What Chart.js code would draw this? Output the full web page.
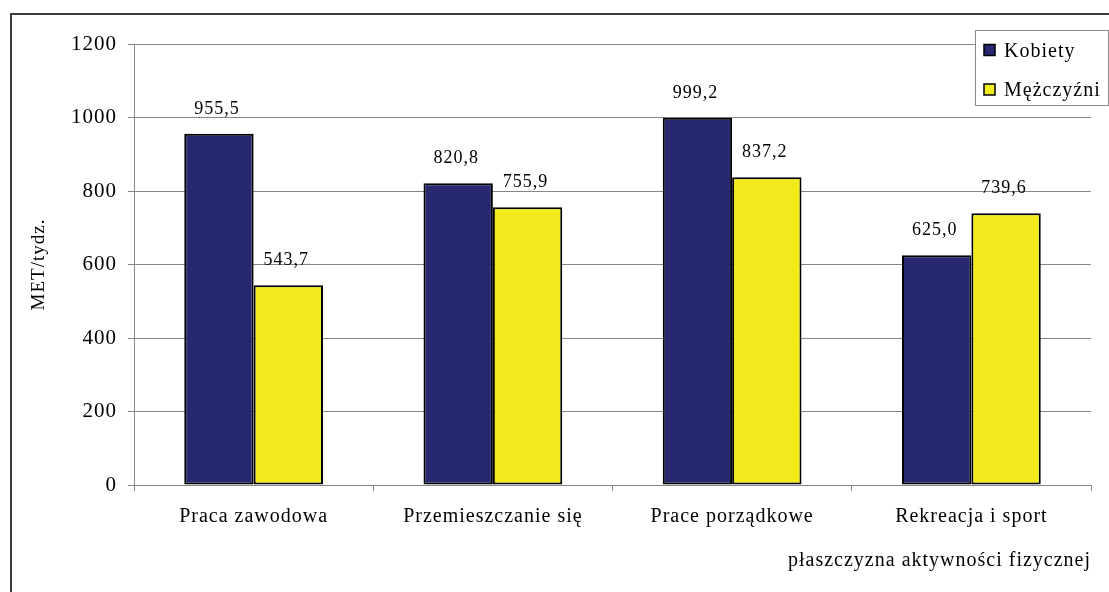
<!DOCTYPE html>
<html>
<head>
<meta charset="utf-8">
<script src="https://cdn.jsdelivr.net/npm/chart.js@4.4.1/dist/chart.umd.min.js"></script>
<style>
  html, body { margin: 0; padding: 0; background: #ffffff; }
  #wrap { width: 1109px; height: 592px; }
</style>
</head>
<body>
<div id="wrap"><canvas id="c" width="1109" height="592"></canvas></div>
<script>
const categories = ['Praca zawodowa', 'Przemieszczanie się', 'Prace porządkowe', 'Rekreacja i sport'];
const seriesNames = ['Kobiety', 'Mężczyźni'];
const kobiety = [955.5, 820.8, 999.2, 625.0];
const mezczyzni = [543.7, 755.9, 837.2, 739.6];
const yMin = 0, yMax = 1200, yStep = 200;
const yTitle = 'MET/tydz.';
const xTitle = 'płaszczyzna aktywności fizycznej';

const SERIF = '"Liberation Serif", "Times New Roman", serif';
const NAVY = '#272870';
const YELLOW = '#f2ea1a';
const GRID = '#868686';

const spacingPlugin = {
  id: 'spacing',
  beforeUpdate(chart) { chart.ctx.letterSpacing = '1px'; },
  beforeLayout(chart) { chart.ctx.letterSpacing = '1px'; },
  beforeDraw(chart) {
    const ctx = chart.ctx;
    ctx.letterSpacing = '1px';
    ctx.save();
    ctx.fillStyle = '#ffffff';
    ctx.fillRect(0, 0, chart.width, chart.height);
    ctx.strokeStyle = '#3c3c3c';
    ctx.lineWidth = 2;
    ctx.strokeRect(11, 14, chart.width + 50, chart.height + 50);
    ctx.restore();
  }
};

const valueLabels = {
  id: 'valueLabels',
  afterDatasetsDraw(chart) {
    const ctx = chart.ctx;
    ctx.save();
    ctx.letterSpacing = '1px';
    ctx.font = '18px ' + SERIF;
    ctx.fillStyle = '#000';
    ctx.textAlign = 'center';
    ctx.textBaseline = 'alphabetic';
    chart.data.datasets.forEach((ds, i) => {
      chart.getDatasetMeta(i).data.forEach((bar, j) => {
        const txt = ds.data[j].toFixed(1).replace('.', ',');
        ctx.fillText(txt, bar.x - 2, bar.y - 20);
      });
    });
    ctx.restore();
  }
};

const boxLegend = {
  id: 'boxLegend',
  afterDraw(chart) {
    const ctx = chart.ctx;
    ctx.save();
    const bx = 975, by = 30, bw = 133, bh = 75;
    ctx.fillStyle = '#ffffff';
    ctx.fillRect(bx, by, bw, bh);
    ctx.strokeStyle = '#8a8a8a';
    ctx.lineWidth = 1;
    ctx.strokeRect(bx + 0.5, by + 0.5, bw, bh);
    ctx.letterSpacing = '1px';
    ctx.font = '20px ' + SERIF;
    ctx.textAlign = 'left';
    ctx.textBaseline = 'alphabetic';
    const baselines = [56.5, 96];
    chart.data.datasets.forEach((ds, i) => {
      const bl = baselines[i];
      ctx.fillStyle = ds.backgroundColor;
      ctx.fillRect(984, bl - 12, 11, 11);
      ctx.strokeStyle = '#000';
      ctx.lineWidth = 1.5;
      ctx.strokeRect(984, bl - 12, 11, 11);
      ctx.fillStyle = '#000';
      ctx.fillText(ds.label, 1004, bl);
    });
    ctx.restore();
  }
};

new Chart(document.getElementById('c'), {
  type: 'bar',
  data: {
    labels: categories,
    datasets: [
      { label: seriesNames[0], data: kobiety, backgroundColor: NAVY, borderColor: '#000', borderWidth: 2, borderSkipped: false },
      { label: seriesNames[1], data: mezczyzni, backgroundColor: YELLOW, borderColor: '#000', borderWidth: 2, borderSkipped: false }
    ]
  },
  options: {
    responsive: false,
    devicePixelRatio: 1,
    animation: false,
    layout: { padding: { left: 0, top: 44, right: 18, bottom: 0 } },
    datasets: { bar: { categoryPercentage: 0.58, barPercentage: 1.0 } },
    plugins: { legend: { display: false }, tooltip: { enabled: false } },
    scales: {
      x: {
        afterFit(scale) { scale.height = 107; },
        grid: { drawOnChartArea: false, drawTicks: true, tickLength: 6, color: GRID, offset: true },
        border: { color: GRID, width: 1 },
        ticks: { color: '#000', font: { family: SERIF, size: 20 }, padding: 14, maxRotation: 0, autoSkip: false },
        title: {
          display: true, text: xTitle, align: 'end', color: '#000',
          font: { family: SERIF, size: 20, lineHeight: 1 },
          padding: { top: 0, bottom: 21 }
        }
      },
      y: {
        min: yMin, max: yMax,
        afterFit(scale) { scale.width = 134; },
        grid: { color: GRID, lineWidth: 1, drawTicks: true, tickLength: 6 },
        border: { color: GRID, width: 1 },
        ticks: { stepSize: yStep, color: '#000', font: { family: SERIF, size: 21 }, padding: 11, callback: (v) => String(v) },
        title: {
          display: true, text: yTitle, color: '#000',
          font: { family: SERIF, size: 19, lineHeight: 1 },
          padding: { top: 30, bottom: 0 }
        }
      }
    }
  },
  plugins: [spacingPlugin, valueLabels, boxLegend]
});
</script>
</body>
</html>
